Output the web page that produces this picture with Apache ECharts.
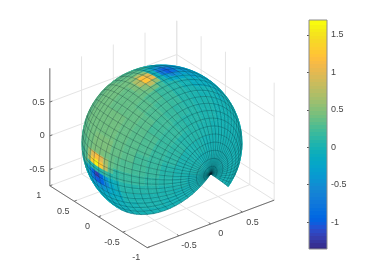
<!DOCTYPE html>
<html><head><meta charset="utf-8">
<style>html,body{margin:0;padding:0;background:#fff}#c{width:374px;height:280px}</style>
<script src="https://cdn.jsdelivr.net/npm/echarts@6/dist/echarts.min.js"></script>
</head><body><div id="c"></div>
<script>
// ---- tick labels
const xTicks = [-0.5, 0, 0.5];
const yTicks = [-1, -0.5, 0, 0.5, 1];
const zTicks = [-0.5, 0, 0.5];
const xGrid = [-1, -0.5, 0, 0.5, 1];
const yGrid = [-1, -0.5, 0, 0.5, 1];
const zLimits = [-0.74, 1];
const barTicks = [-1, -0.5, 0, 0.5, 1, 1.5];
const barLimits = [-1.36, 1.70];
// ---- surface patches and mesh lines (degrees)
const polarStep = 5, polarCount = 28;      // colour cells from the pole at y = -1
const lonStart = 45, lonStep = 5, lonCount = 54; // wedge removed around -z
const meshStep = 6, meshPolarCount = 24, meshLonCount = 45;
// ---- surface values per 10 degree band (rows: polar 0-10, 10-20 ...; cols: lon 45-55, 55-65 ... 305-315)
const band00 = [0,0,0,0,0,0,0,0,0,0,0,0,0,0,0,0,0,0,0,0,0,0,0,0,0,0,0];
const band10 = [0,0,0,0,0,0,0,0,0,0,0,0,0,0,.01,.02,.02,.03,.03,.03,.03,.02,.02,.01,.01,0,0];
const band20 = [0,0,0,0,0,0,0,0,0,0,0,0,0,.02,.04,.05,.06,.07,.07,.07,.06,.05,.05,.03,.02,.01,0];
const band30 = [0,0,0,0,0,0,0,0,0,0,0,.01,.03,.05,.08,.1,.12,.13,.13,.13,.12,.11,.09,.06,.04,.02,.01];
const band40 = [0,0,0,0,0,0,0,0,0,0,.01,.03,.05,.08,.12,.15,.18,.19,.2,.2,.19,.17,.14,.1,.06,.04,.02];
const band50 = [0,0,0,0,0,0,0,0,0,0,.01,.03,.06,.1,.15,.2,.24,.26,.27,.27,.25,.22,.18,.12,.07,.04,.02];
const band60 = [0,0,0,0,0,0,0,0,-.02,-.03,-.02,.01,.05,.11,.18,.24,.29,.32,.33,.33,.32,.27,.19,.1,.04,.01,0];
const band70 = [0,0,0,0,0,0,-.02,-.03,-.05,-.08,-.1,-.08,-.02,.08,.2,.29,.34,.37,.38,.4,.38,.32,.16,-.04,-.08,-.05,-.03];
const band80 = [0,0,0,0,0,-.02,-.04,-.05,-.07,-.12,-.2,-.3,-.3,-.05,.3,.34,.38,.4,.42,.45,.48,.55,.35,-.15,-.22,-.1,-.05];
const band90 = [0,0,0,0,0,-.02,-.05,-.07,-.1,-.15,-.25,-.4,-.5,-.1,.42,.42,.4,.4,.42,.45,.48,.55,.52,-.25,-.22,-.1,-.05];
const band100 = [0,0,0,0,0,-.03,-.05,-.07,-.1,-.15,-.22,-.3,-.3,.05,.4,.42,.42,.42,.42,.43,.43,.4,.32,-.1,-.15,-.08,-.04];
const band110 = [0,0,0,0,0,-.03,-.05,-.07,-.08,-.1,-.12,-.12,-.1,.18,.34,.4,.42,.42,.42,.42,.4,.35,.26,.1,0,0,0];
const band120 = [0,0,0,0,0,-.03,-.05,-.05,-.06,-.07,-.07,-.05,0,.17,.3,.36,.38,.4,.4,.38,.35,.3,.22,.1,0,0,0];
const band130 = [0,0,0,0,0,0,0,0,0,0,0,0,.05,.13,.24,.3,.34,.36,.36,.34,.3,.26,.18,.1,0,0,0];
const bands = [band00,band10,band20,band30,band40,band50,band60,band70,band80,band90,band100,band110,band120,band130];
// ---- fine values at the two warm/cool spots (5 degree cells)
const spotA = { polarFrom: 80, lonFrom: 160, rows: [
  [-.1,-.2,-.2,-.1,.05,.25,.42,.42,.38],
  [-.25,-.45,-.55,-.35,0,.6,.8,.55,.42],
  [-.4,-.8,-1.0,-.7,-.05,1.05,1.25,.75,.5],
  [-.4,-.8,-1.0,-.7,-.05,1.0,1.2,.7,.5],
  [-.3,-.5,-.6,-.4,0,.6,.75,.55,.45],
  [-.2,-.25,-.25,-.15,.05,.32,.45,.45,.42]] };
const spotB = { polarFrom: 75, lonFrom: 255, rows: [
  [.38,.4,.36,.1,-.1,-.2,-.15,-.08],
  [.42,.62,.75,.2,-.4,-.5,-.3,-.15],
  [.48,1.0,1.3,.1,-.9,-.9,-.42,-.2],
  [.5,1.2,1.65,.1,-1.2,-1.0,-.45,-.2],
  [.48,1.0,1.35,.1,-.9,-.8,-.38,-.2],
  [.42,.62,.72,.1,-.4,-.4,-.25,-.15]] };
// ---- colormap
const parula = [[.2081,.1663,.5292],[.2116,.1898,.5777],[.2123,.2138,.627],[.2081,.2386,.6771],[.1959,.2645,.7279],[.1707,.2919,.7792],[.1253,.3242,.8303],[.0591,.3598,.8683],[.0117,.3875,.882],[.006,.4086,.8828],[.0165,.4266,.8786],[.0329,.443,.872],[.0498,.4586,.8641],[.0629,.4737,.8554],[.0723,.4887,.8467],[.0779,.504,.8384],[.0793,.52,.8312],[.0749,.5375,.8263],[.0641,.557,.824],[.0488,.5772,.8228],[.0343,.5966,.8199],[.0265,.6137,.8135],[.0239,.6287,.8038],[.0231,.6418,.7913],[.0228,.6535,.7768],[.0267,.6642,.7607],[.0384,.6743,.7436],[.059,.6838,.7254],[.0843,.6928,.7062],[.1133,.7015,.6859],[.1453,.7098,.6646],[.1801,.7177,.6424],[.2178,.725,.6193],[.2586,.7317,.5954],[.3022,.7376,.5712],[.3482,.7424,.5473],[.3953,.7459,.5244],[.442,.7481,.5033],[.4871,.7491,.484],[.53,.7491,.4661],[.5709,.7485,.4494],[.6099,.7473,.4337],[.6473,.7456,.4188],[.6834,.7435,.4044],[.7184,.7411,.3905],[.7525,.7384,.3768],[.7858,.7356,.3633],[.8185,.7327,.3498],[.8507,.7299,.336],[.8824,.7274,.3217],[.9139,.7258,.3063],[.945,.7261,.2886],[.9739,.7314,.2666],[.9938,.7455,.2403],[.999,.7653,.2164],[.9955,.7861,.1967],[.988,.8066,.1794],[.9789,.8271,.1633],[.9697,.8481,.1475],[.9626,.8705,.1309],[.9589,.8949,.1132],[.9598,.9218,.0948],[.9661,.9514,.0755],[.9763,.9831,.0538]];
// ---- view
const viewAz = -37.5, viewEl = 30;

const rad = Math.PI / 180;
const sa = Math.sin(viewAz * rad), ca = Math.cos(viewAz * rad), se = Math.sin(viewEl * rad), ce = Math.cos(viewEl * rad);
const right = [ca, sa, 0], up = [-sa * se, ca * se, ce], cam = [sa * ce, -ca * ce, se];
const dot = (a, b) => a[0] * b[0] + a[1] * b[1] + a[2] * b[2];
const proj = p => [dot(right, p), dot(up, p)];
const spherePoint = (polar, lon) => { const t = polar * rad, q = lon * rad;
  return [Math.sin(t) * Math.sin(q), -Math.cos(t), -Math.sin(t) * Math.cos(q)]; };
function colorOf(v) {
  let k = Math.floor((v - barLimits[0]) / (barLimits[1] - barLimits[0]) * parula.length);
  k = Math.max(0, Math.min(parula.length - 1, k));
  const c = parula[k];
  return 'rgb(' + c.map(n => Math.round(n * 255)).join(',') + ')';
}
function cellValue(i, j) {
  const polar = i * polarStep, lon = lonStart + j * lonStep;
  for (const s of [spotA, spotB]) {
    const r = (polar - s.polarFrom) / polarStep, c = (lon - s.lonFrom) / lonStep;
    if (r >= 0 && r < s.rows.length && c >= 0 && c < s.rows[0].length) return s.rows[r][c];
  }
  return bands[Math.floor(i / 2)][Math.floor(j / 2)];
}
// surface cells, far to near
const cells = [];
for (let i = 0; i < polarCount; i++) for (let j = 0; j < lonCount; j++) {
  const t0 = i * polarStep, t1 = t0 + polarStep, q0 = lonStart + j * lonStep, q1 = q0 + lonStep;
  const corners = [[t0, q0], [t1, q0], [t1, q1], [t0, q1]].map(c => spherePoint(c[0], c[1]));
  const depths = corners.map(p => dot(cam, p));
  if (Math.max.apply(null, depths) <= 0) continue;
  const flat = [];
  corners.forEach(p => flat.push.apply(flat, proj(p)));
  flat.push(cellValue(i, j), depths[0] + depths[1] + depths[2] + depths[3]);
  cells.push(flat);
}
cells.sort((a, b) => a[9] - b[9]);
// mesh lines on the visible side
const meshSegs = [];
function addMesh(a, b) { const p = spherePoint(a[0], a[1]), q = spherePoint(b[0], b[1]);
  if (dot(cam, p) > 0.03 && dot(cam, q) > 0.03) meshSegs.push(proj(p).concat(proj(q))); }
for (let i = 0; i <= meshPolarCount; i++) for (let j = 0; j < meshLonCount; j++)
  addMesh([i * meshStep, lonStart + j * meshStep], [i * meshStep, lonStart + (j + 1) * meshStep]);
for (let j = 0; j <= meshLonCount; j++) for (let i = 0; i < meshPolarCount; i++)
  addMesh([i * meshStep, lonStart + j * meshStep], [(i + 1) * meshStep, lonStart + j * meshStep]);

// 3D box grid lines and axes
const zl = zLimits[0], zh = zLimits[1];
const seg = (a, b) => proj(a).concat(proj(b));
const gridSegs = [];
zTicks.forEach(z => { gridSegs.push(seg([-1, 1, z], [1, 1, z]), seg([1, 1, z], [1, -1, z])); });
xGrid.forEach(x => { gridSegs.push(seg([x, 1, zl], [x, 1, zh]), seg([x, -1, zl], [x, 1, zl])); });
yGrid.forEach(y => { gridSegs.push(seg([1, y, zl], [1, y, zh]), seg([-1, y, zl], [1, y, zl])); });
const axisSegs = [seg([-1, 1, zl], [-1, 1, zh]), seg([-1, -1, zl], [-1, 1, zl]), seg([-1, -1, zl], [1, -1, zl])];
zTicks.forEach(z => axisSegs.push(seg([-1, 1, z], [-0.96, 1, z])));
yTicks.forEach(y => axisSegs.push(seg([-1, y, zl], [-0.96, y, zl])));
xTicks.forEach(x => axisSegs.push(seg([x, -1, zl], [x, -0.96, zl])));

const labelStyle = { fontFamily: '"Liberation Sans", Arial, sans-serif', fontSize: 9, fill: '#444' };
const fmt = v => String(v);
const labelData = [];
xTicks.forEach(x => labelData.push(proj([x, -1, zl]).concat([fmt(x), 0])));
yTicks.forEach(y => labelData.push(proj([-1, y, zl]).concat([fmt(y), 1])));
zTicks.forEach(z => labelData.push(proj([-1, 1, z]).concat([fmt(z), 2])));
const labelGaps = [[10, 10], [-11, 10], [-5, 0]];
const labelAligns = ['center', 'center', 'right'];

const segSeries = (data, color, width, z) => ({
  type: 'custom', coordinateSystem: 'cartesian2d', xAxisIndex: 0, yAxisIndex: 0, data, z, silent: true,
  progressive: 0, clip: false,
  renderItem: (p, api) => {
    const a = api.coord([api.value(0), api.value(1)]), b = api.coord([api.value(2), api.value(3)]);
    return { type: 'line', shape: { x1: a[0], y1: a[1], x2: b[0], y2: b[1] }, style: { stroke: color, lineWidth: width, fill: null } };
  }
});

const chart = echarts.init(document.getElementById('c'), null, { renderer: 'canvas' });
chart.setOption({
  animation: false,
  backgroundColor: '#fff',
  grid: [
    { left: 162 - 1.7 * 80, width: 3.4 * 80, top: 143 - 1.7 * 78, height: 3.4 * 78 },
    { left: 309, width: 18, top: 20, height: 229 }
  ],
  xAxis: [
    { type: 'value', gridIndex: 0, min: -1.7, max: 1.7, show: false },
    { type: 'value', gridIndex: 1, min: 0, max: 1, show: false }
  ],
  yAxis: [
    { type: 'value', gridIndex: 0, min: -1.7, max: 1.7, show: false },
    { type: 'value', gridIndex: 1, min: barLimits[0], max: barLimits[1], position: 'right', splitLine: { show: false },
      axisLine: { show: false },
      axisTick: { show: true, inside: true, length: 2, customValues: barTicks, lineStyle: { color: '#555', width: 1 } },
      axisLabel: { show: true, margin: 4, customValues: barTicks, color: '#444', fontSize: 9, fontFamily: '"Liberation Sans", Arial, sans-serif', formatter: v => String(v) } }
  ],
  series: [
    segSeries(gridSegs, '#e4e4e4', 1, 1),
    segSeries(axisSegs, '#707070', 1, 2),
    {
      type: 'custom', coordinateSystem: 'cartesian2d', xAxisIndex: 0, yAxisIndex: 0, data: cells, z: 3, silent: true,
      progressive: 0, clip: false,
      renderItem: (p, api) => {
        const pts = [];
        for (let k = 0; k < 4; k++) pts.push(api.coord([api.value(2 * k), api.value(2 * k + 1)]));
        const col = colorOf(api.value(8));
        return { type: 'polygon', shape: { points: pts }, style: { fill: col, stroke: col, lineWidth: 0.6 } };
      }
    },
    segSeries(meshSegs, 'rgba(0,30,40,0.42)', 0.6, 3.5),
    {
      type: 'custom', coordinateSystem: 'cartesian2d', xAxisIndex: 0, yAxisIndex: 0, z: 4, silent: true,
      data: labelData, dimensions: ['u', 'v', { name: 't', type: 'ordinal' }, 'k'], clip: false, progressive: 0,
      renderItem: (p, api) => {
        const d = labelData[p.dataIndex], at = api.coord([d[0], d[1]]), g = labelGaps[d[3]];
        return { type: 'text', x: at[0] + g[0], y: at[1] + g[1],
          style: Object.assign({ text: d[2], align: labelAligns[d[3]], verticalAlign: 'middle' }, labelStyle) };
      }
    },
    {
      type: 'custom', coordinateSystem: 'cartesian2d', xAxisIndex: 1, yAxisIndex: 1, z: 3, silent: true, progressive: 0,
      data: parula.map((c, i) => [i]),
      renderItem: (p, api) => {
        const i = api.value(0), n = parula.length, s = barLimits[1] - barLimits[0];
        const lo = barLimits[0] + s * i / n, hi = barLimits[0] + s * (i + 1) / n;
        const a = api.coord([0, hi]), b = api.coord([1, lo]);
        const top = Math.floor(a[1]), bottom = i === 0 ? b[1] : Math.ceil(b[1]) + 1;
        return { type: 'rect', shape: { x: a[0], y: top, width: b[0] - a[0], height: bottom - top },
          style: { fill: colorOf((lo + hi) / 2) } };
      }
    },
    {
      type: 'custom', coordinateSystem: 'cartesian2d', xAxisIndex: 1, yAxisIndex: 1, z: 5, silent: true,
      data: [[0, barLimits[1], 1, barLimits[0]]],
      renderItem: (p, api) => {
        const a = api.coord([api.value(0), api.value(1)]), b = api.coord([api.value(2), api.value(3)]);
        return { type: 'rect', shape: { x: a[0], y: a[1], width: b[0] - a[0], height: b[1] - a[1] },
          style: { fill: null, stroke: '#8c8c8c', lineWidth: 1 } };
      }
    }
  ]
});
</script></body></html>
